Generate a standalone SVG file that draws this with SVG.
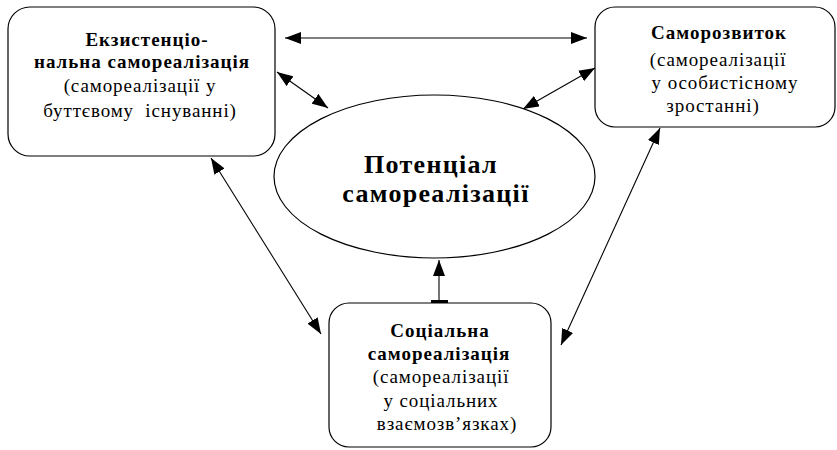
<svg xmlns="http://www.w3.org/2000/svg" width="837" height="450" viewBox="0 0 837 450">
<style>
.box{fill:#fff;stroke:#000;stroke-width:1.2}
.ln{stroke:#000;stroke-width:1.1;fill:none}
text{font-family:'Liberation Serif','Times New Roman',Tinos,'DejaVu Serif',serif;fill:#000;text-anchor:middle}
.b{font-weight:bold;font-size:19px;letter-spacing:1px}
.r{font-size:19px;letter-spacing:0.9px}
.big{font-weight:bold;font-size:26px;letter-spacing:1.3px}
</style>
<defs>
<marker id="ah" viewBox="0 0 16 12" refX="16" refY="6" markerWidth="16" markerHeight="12" markerUnits="userSpaceOnUse" orient="auto-start-reverse">
<path d="M0,0 L16,6 L0,12 z" fill="#000"/>
</marker>
</defs>
<g id="connectors">
<line class="ln" x1="285" y1="38" x2="587" y2="38" marker-start="url(#ah)" marker-end="url(#ah)"/>
<line class="ln" x1="277" y1="72" x2="328" y2="108" marker-start="url(#ah)" marker-end="url(#ah)"/>
<line class="ln" x1="595" y1="68" x2="523" y2="109" marker-start="url(#ah)" marker-end="url(#ah)"/>
<line class="ln" x1="211" y1="158" x2="321" y2="334" marker-start="url(#ah)" marker-end="url(#ah)"/>
<line class="ln" x1="660" y1="128" x2="561" y2="345" marker-start="url(#ah)" marker-end="url(#ah)"/>
<line class="ln" x1="439" y1="302" x2="439" y2="260" marker-end="url(#ah)"/>
<line x1="431" y1="301.5" x2="448" y2="301.5" stroke="#000" stroke-width="3"/>
</g>
<g id="existential">
<rect class="box" x="8" y="7" width="267" height="149" rx="22" ry="22"/>
<text class="b" x="147" y="46">Екзистенціо-</text>
<text class="b" x="142" y="68">нальна самореалізація</text>
<text class="r" x="140" y="92">(самореалізації у</text>
<text class="r" x="140" y="117" xml:space="preserve">буттєвому  існуванні)</text>
</g>
<g id="selfdev">
<rect class="box" x="595" y="7" width="240" height="120" rx="20" ry="20"/>
<text class="b" x="719" y="39">Саморозвиток</text>
<text class="r" x="718" y="66">(самореалізації</text>
<text class="r" x="725" y="89">у особистісному</text>
<text class="r" x="713" y="112">зростанні)</text>
</g>
<g id="potential">
<ellipse class="box" cx="434.5" cy="176.5" rx="160.5" ry="81.5"/>
<text class="big" x="431" y="173">Потенціал</text>
<text class="big" x="436" y="202">самореалізації</text>
</g>
<g id="social">
<rect class="box" x="329" y="303" width="222" height="144" rx="20" ry="20"/>
<text class="b" x="440" y="337">Соціальна</text>
<text class="b" x="439" y="360">самореалізація</text>
<text class="r" x="441" y="383">(самореалізації</text>
<text class="r" x="441" y="407">у соціальних</text>
<text class="r" x="447" y="430">взаємозв’язках)</text>
</g>
</svg>
